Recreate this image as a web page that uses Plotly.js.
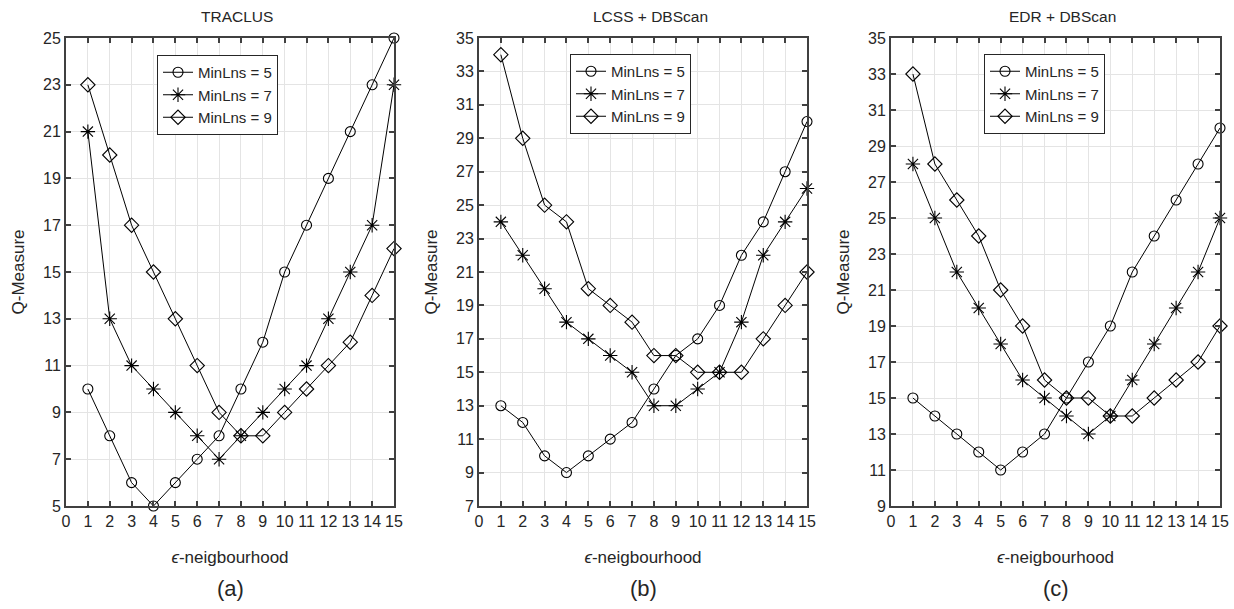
<!DOCTYPE html>
<html>
<head>
<meta charset="utf-8">
<script src="https://cdn.plot.ly/plotly-3.0.1.min.js"></script>
<style>html,body{margin:0;padding:0;background:#fff;} #chart{width:1234px;height:609px;}</style>
</head>
<body>
<div id="chart"></div>
<script>
const eps = [1,2,3,4,5,6,7,8,9,10,11,12,13,14,15];
const seriesNames = ['MinLns = 5','MinLns = 7','MinLns = 9'];
const panelTitles = ['TRACLUS','LCSS + DBScan','EDR + DBScan'];
const panelLabels = ['(a)','(b)','(c)'];

const traclus5 = [10,8,6,5,6,7,8,10,12,15,17,19,21,23,25];
const traclus7 = [21,13,11,10,9,8,7,8,9,10,11,13,15,17,23];
const traclus9 = [23,20,17,15,13,11,9,8,8,9,10,11,12,14,16];

const lcss5 = [13,12,10,9,10,11,12,14,16,17,19,22,24,27,30];
const lcss7 = [24,22,20,18,17,16,15,13,13,14,15,18,22,24,26];
const lcss9 = [34,29,25,24,20,19,18,16,16,15,15,15,17,19,21];

const edr5 = [15,14,13,12,11,12,13,15,17,19,22,24,26,28,30];
const edr7 = [28,25,22,20,18,16,15,14,13,14,16,18,20,22,25];
const edr9 = [33,28,26,24,21,19,16,15,15,14,14,15,16,17,19];

const yRanges = [[5,25],[7,35],[9,35]];

const panels = [[traclus5,traclus7,traclus9],[lcss5,lcss7,lcss9],[edr5,edr7,edr9]];
const symbols = ['circle-open','asterisk-open','diamond-open'];
const sizes = [10,12,11];

const xDomains = [[66/1234,394/1234],[479/1234,807/1234],[891/1234,1220/1234]];
const yDomain = [1-506/609, 1-38/609];
const legendX = [157/1234, 570/1234, 984/1234];
const legendY = [1-55/609, 1-54/609, 1-54/609];

const FONT = 'Liberation Sans, Arial, Helvetica, sans-serif';
const AX = '#404040';
const TXT = '#262626';

const traces = [];
const layout = {
  width:1234, height:609,
  margin:{l:0,r:0,t:0,b:0},
  paper_bgcolor:'#ffffff', plot_bgcolor:'#ffffff',
  font:{family:FONT, size:16, color:TXT},
  showlegend:true,
  annotations:[]
};

panels.forEach((p,i)=>{
  const sfx = i===0 ? '' : String(i+1);
  const legendName = 'legend' + sfx;
  p.forEach((vals,j)=>{
    traces.push({
      x: eps, y: vals, type:'scatter', mode:'lines+markers',
      name: seriesNames[j],
      xaxis:'x'+sfx, yaxis:'y'+sfx,
      legend: legendName,
      cliponaxis:false,
      line:{color:'#000000', width:1},
      marker:{symbol:symbols[j], size:sizes[j], color:'#000000', line:{color:'#000000', width:1.1}}
    });
  });
  layout['xaxis'+sfx] = {
    domain:xDomains[i], anchor:'y'+sfx, range:[0,15], dtick:1, tick0:0,
    showline:true, linecolor:AX, linewidth:2, mirror:'ticks',
    ticks:'inside', ticklen:5, tickwidth:2, tickcolor:AX,
    showgrid:true, gridcolor:'#e4e4e4', gridwidth:1, zeroline:false,
    tickfont:{size:16, family:FONT, color:TXT},
    title:{text:'<i>ϵ</i>-neigbourhood', font:{size:17, family:FONT, color:TXT}, standoff:22},
    fixedrange:true
  };
  layout['yaxis'+sfx] = {
    domain:yDomain, anchor:'x'+sfx, range:yRanges[i], dtick:2, tick0:1,
    showline:true, linecolor:AX, linewidth:2, mirror:'ticks',
    ticks:'inside', ticklen:5, tickwidth:2, tickcolor:AX,
    showgrid:true, gridcolor:'#e4e4e4', gridwidth:1, zeroline:false,
    tickfont:{size:16, family:FONT, color:TXT},
    title:{text:'Q-Measure', font:{size:17, family:FONT, color:TXT}, standoff:14},
    fixedrange:true
  };
  layout[legendName] = {
    x:legendX[i], y:legendY[i], xanchor:'left', yanchor:'top',
    bgcolor:'#ffffff', bordercolor:'#262626', borderwidth:1,
    font:{size:15, family:FONT, color:TXT},
    tracegroupgap:0, itemsizing:'trace', entrywidth:100, entrywidthmode:'pixels'
  };
  const xc = (xDomains[i][0]+xDomains[i][1])/2;
  layout.annotations.push({
    text:panelTitles[i], xref:'paper', yref:'paper', x:xc + 7/1234, y:1-17/609,
    xanchor:'center', yanchor:'middle', showarrow:false,
    font:{size:15.5, family:FONT, color:TXT}
  });
  layout.annotations.push({
    text:panelLabels[i], xref:'paper', yref:'paper', x:xc, y:1-588/609,
    xanchor:'center', yanchor:'middle', showarrow:false,
    font:{size:22, family:FONT, color:TXT}
  });
});

Plotly.newPlot('chart', traces, layout, {staticPlot:true, displayModeBar:false});
</script>
</body>
</html>
